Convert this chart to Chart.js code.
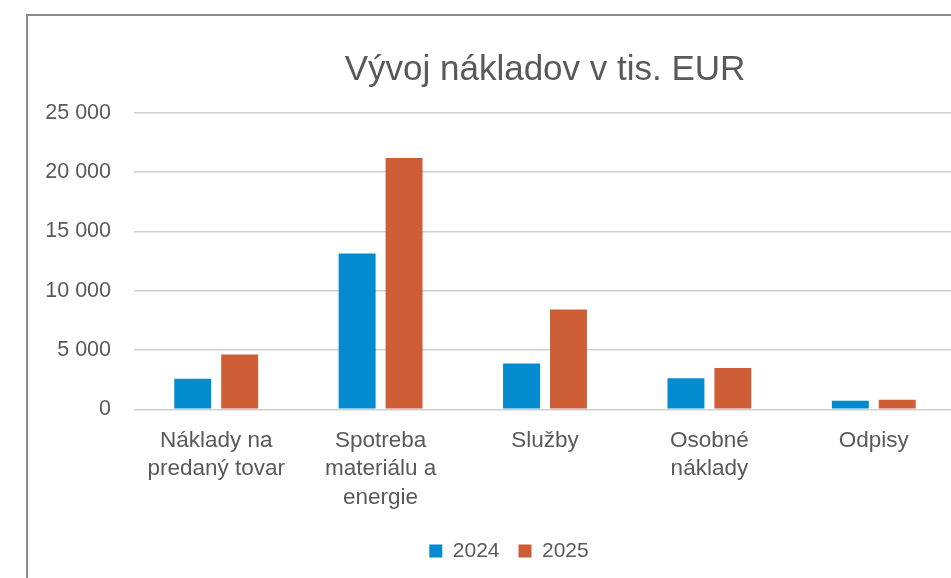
<!DOCTYPE html>
<html>
<head>
<meta charset="utf-8">
<script src="https://cdn.jsdelivr.net/npm/chart.js@4.4.1/dist/chart.umd.min.js"></script>
<style>
  html, body { margin: 0; padding: 0; background: #ffffff; overflow: hidden; width: 951px; height: 578px; }
  #frame { position: absolute; left: 26px; top: 14px; width: 1000px; height: 640px; border: 2px solid #8a8a8a; box-sizing: border-box; }
  #wrap { position: absolute; left: 0; top: 0; width: 990px; height: 600px; }
</style>
</head>
<body>
<div id="frame"></div>
<div id="wrap"><canvas id="c" width="990" height="600"></canvas></div>
<script>
const categories = [
  ['Náklady na', 'predaný tovar'],
  ['Spotreba', 'materiálu a', 'energie'],
  'Služby',
  ['Osobné', 'náklady'],
  'Odpisy'
];
const seriesNames = ['2024', '2025'];
const values2024 = [2580, 13150, 3870, 2620, 740];
const values2025 = [4630, 21210, 8430, 3500, 820];
const yTicks = [0, 5000, 10000, 15000, 20000, 25000];
const titleText = 'Vývoj nákladov v tis. EUR';

const FONT = '"Liberation Sans", Arial, sans-serif';
const TXT = '#595959';

function fmt(v) {
  return String(v).replace(/\B(?=(\d{3})+(?!\d))/g, '\u00a0');
}

// shift the legend to be centred on the whole chart frame
const legendShift = {
  id: 'legendShift',
  afterLayout(chart) {
    const lg = chart.legend;
    if (lg) { lg.left += 13; lg.right += 13; }
  }
};

new Chart(document.getElementById('c'), {
  type: 'bar',
  plugins: [legendShift],
  data: {
    labels: categories,
    datasets: [
      { label: seriesNames[0], data: values2024, backgroundColor: '#038BCF', borderWidth: 0 },
      { label: seriesNames[1], data: values2025, backgroundColor: '#CD5E36', borderWidth: 0 }
    ]
  },
  options: {
    responsive: false,
    animation: false,
    devicePixelRatio: 1,
    layout: { padding: { left: 36, right: 34, top: 0, bottom: 28.5 } },
    datasets: { bar: { categoryPercentage: 0.571, barPercentage: 0.787 } },
    plugins: {
      title: {
        display: true,
        text: titleText,
        fullSize: false,
        color: TXT,
        font: { family: FONT, size: 35, weight: 'normal', lineHeight: 1.2 },
        padding: { top: 49.3, bottom: 21.7 }
      },
      legend: {
        display: true,
        position: 'bottom',
        labels: {
          color: TXT,
          font: { family: FONT, size: 21 },
          boxWidth: 13,
          boxHeight: 13,
          padding: 19
        }
      },
      tooltip: { enabled: false }
    },
    scales: {
      x: {
        grid: { display: false, drawTicks: false },
        border: { display: false },
        ticks: {
          color: TXT,
          font: { family: FONT, size: 22.5, lineHeight: 1.267 },
          padding: 17,
          maxRotation: 0,
          autoSkip: false
        },
        afterFit(scale) { scale.height = 112.1; }
      },
      y: {
        min: yTicks[0],
        max: yTicks[yTicks.length - 1],
        afterBuildTicks(scale) { scale.ticks = yTicks.map(v => ({ value: v })); },
        grid: { color: '#cfcfcf', lineWidth: 1.6, drawTicks: false },
        border: { display: false },
        ticks: {
          color: TXT,
          font: { family: FONT, size: 21.5 },
          padding: 23,
          callback: (v) => fmt(v)
        },
        afterFit(scale) { scale.width = 98; }
      }
    }
  }
});
</script>
</body>
</html>
